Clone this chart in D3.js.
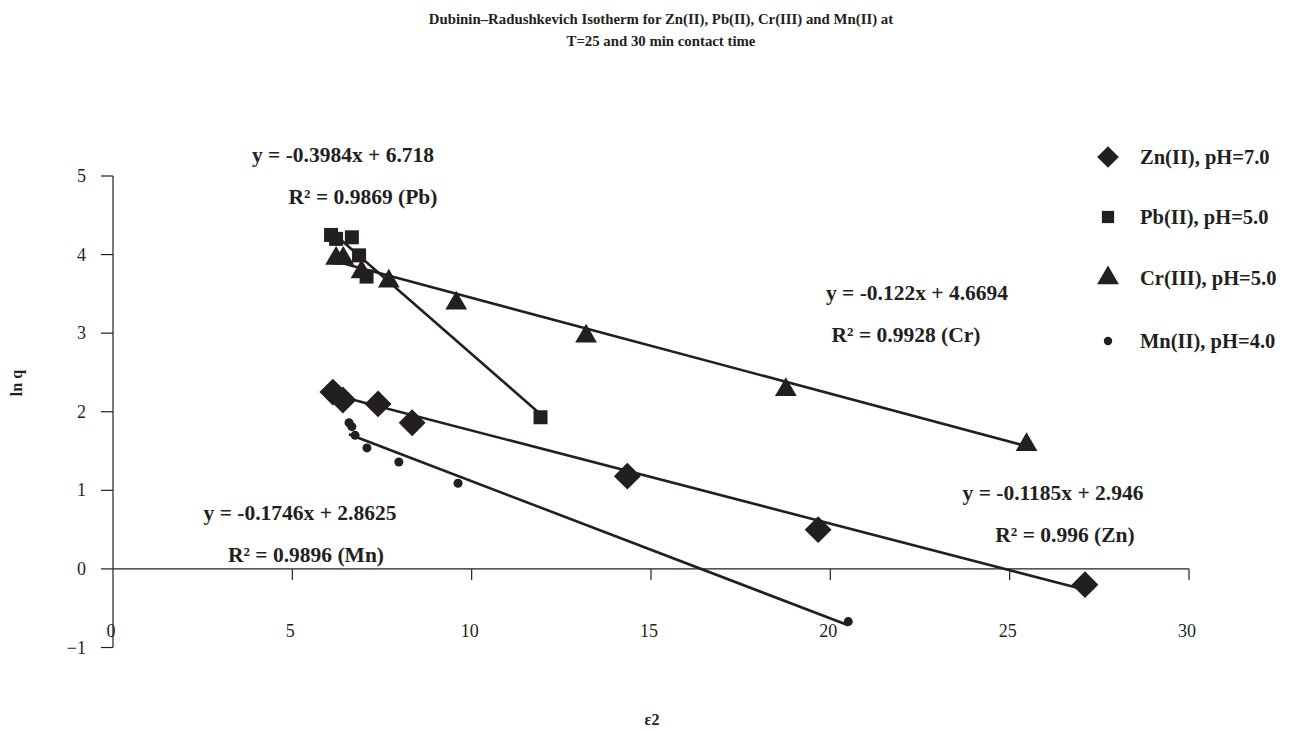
<!DOCTYPE html>
<html lang="en">
<head>
<meta charset="UTF-8">
<title>Dubinin–Radushkevich Isotherm</title>
<script src="https://d3js.org/d3.v7.min.js"></script>
<style>
  body { margin: 0; background: #fff; }
  svg text { font-family: "Liberation Serif", "Times New Roman", serif; fill: #231f20; }
  .bold { font-weight: bold; }
</style>
</head>
<body>
<div id="chart"></div>
<script>
// data
const seriesNames = ["Zn(II), pH=7.0", "Pb(II), pH=5.0", "Cr(III), pH=5.0", "Mn(II), pH=4.0"];

const znX = [6.13, 6.41, 7.39, 8.34, 14.34, 19.66, 27.1];
const znY = [2.25, 2.15, 2.10, 1.86, 1.18, 0.50, -0.20];

const pbX = [6.08, 6.22, 6.66, 6.86, 7.07, 11.92];
const pbY = [4.25, 4.20, 4.22, 3.99, 3.72, 1.93];

const crX = [6.22, 6.42, 6.93, 7.69, 9.57, 13.19, 18.76, 25.47];
const crY = [3.95, 3.95, 3.78, 3.66, 3.38, 2.96, 2.28, 1.58];

const mnX = [6.58, 6.66, 6.75, 7.08, 7.97, 9.62, 20.5];
const mnY = [1.86, 1.81, 1.70, 1.54, 1.36, 1.09, -0.67];

// trendline coefficients (as printed on the chart)
const slopes = [-0.1185, -0.3984, -0.122, -0.1746];
const intercepts = [2.946, 6.718, 4.6694, 2.8625];
const eqLabels = ["y = -0.1185x + 2.946", "y = -0.3984x + 6.718", "y = -0.122x + 4.6694", "y = -0.1746x + 2.8625"];
const r2Labels = ["R\u00b2 = 0.996 (Zn)", "R\u00b2 = 0.9869 (Pb)", "R\u00b2 = 0.9928 (Cr)", "R\u00b2 = 0.9896 (Mn)"];

const xTicks = [0, 5, 10, 15, 20, 25, 30];
const yTicks = [-1, 0, 1, 2, 3, 4, 5];

const W = 1295, H = 731;
const ink = "#231f20";

const svg = d3.select("#chart").append("svg")
  .attr("width", W).attr("height", H);

const x = d3.scaleLinear().domain([0, 30]).range([113, 1189]);
const y = d3.scaleLinear().domain([-1, 5]).range([647.5, 176]);

// title
const title = svg.append("text").attr("class", "bold")
  .attr("text-anchor", "middle").style("font-size", "14.8px");
title.append("tspan").attr("x", 661).attr("y", 24)
  .text("Dubinin\u2013Radushkevich Isotherm for Zn(II), Pb(II), Cr(III) and Mn(II) at");
title.append("tspan").attr("x", 661).attr("y", 46)
  .text("T=25 and 30 min contact time");

// y axis
svg.append("line")
  .attr("x1", x(0)).attr("x2", x(0))
  .attr("y1", y(5)).attr("y2", y(-1))
  .attr("stroke", ink).attr("stroke-width", 1.2);
svg.selectAll(".ytick").data(yTicks).enter().append("line")
  .attr("x1", x(0) - 12).attr("x2", x(0))
  .attr("y1", d => y(d)).attr("y2", d => y(d))
  .attr("stroke", ink).attr("stroke-width", 1.2);
svg.selectAll(".ylab").data(yTicks).enter().append("text")
  .attr("x", 86).attr("y", d => y(d) + 6)
  .attr("text-anchor", "end").style("font-size", "18px")
  .text(d => d < 0 ? "\u2212" + Math.abs(d) : d);

// x axis at y = 0, labels at the bottom
svg.append("line")
  .attr("x1", x(0)).attr("x2", x(30))
  .attr("y1", y(0)).attr("y2", y(0))
  .attr("stroke", ink).attr("stroke-width", 1.2);
svg.selectAll(".xtick").data(xTicks.slice(1)).enter().append("line")
  .attr("x1", d => x(d)).attr("x2", d => x(d))
  .attr("y1", y(0)).attr("y2", y(0) + 11)
  .attr("stroke", ink).attr("stroke-width", 1.2);
svg.selectAll(".xlab").data(xTicks).enter().append("text")
  .attr("x", d => x(d) - 2).attr("y", 637)
  .attr("text-anchor", "middle").style("font-size", "18px")
  .text(d => d);

// axis titles
svg.append("text").attr("class", "bold")
  .attr("transform", "translate(22,383) rotate(-90)")
  .attr("text-anchor", "middle").style("font-size", "16px")
  .text("ln q");
svg.append("text").attr("class", "bold")
  .attr("x", 652).attr("y", 725)
  .attr("text-anchor", "middle").style("font-size", "16px")
  .text("\u03b52");

// series
const series = [
  {xs: znX, ys: znY, shape: d3.symbolDiamond2, size: 460, leg: 300},
  {xs: pbX, ys: pbY, shape: d3.symbolSquare2, size: 250, leg: 190},
  {xs: crX, ys: crY, shape: d3.symbolTriangle2, size: 340, leg: 340},
  {xs: mnX, ys: mnY, shape: d3.symbolCircle, size: 64, leg: 56}
];

// trendlines over each series' x-range
series.forEach((s, i) => {
  const [x0, x1] = d3.extent(s.xs);
  svg.append("line")
    .attr("x1", x(x0)).attr("y1", y(slopes[i] * x0 + intercepts[i]))
    .attr("x2", x(x1)).attr("y2", y(slopes[i] * x1 + intercepts[i]))
    .attr("stroke", ink).attr("stroke-width", 2.6);
});

series.forEach((s, i) => {
  svg.append("g").selectAll("path")
    .data(s.xs.map((v, j) => [v, s.ys[j]]))
    .enter().append("path")
    .attr("transform", d => `translate(${x(d[0])},${y(d[1])})`)
    .attr("d", d3.symbol().type(s.shape).size(s.size))
    .attr("fill", ink);
});

// equation labels
const eqPos = [[1053, 500], [343, 162], [917, 300], [300, 520]];
const r2Pos = [[1065, 542], [363, 204], [906, 342], [306, 562]];
eqLabels.forEach((t, i) => {
  svg.append("text").attr("class", "bold")
    .attr("x", eqPos[i][0]).attr("y", eqPos[i][1])
    .attr("text-anchor", "middle").style("font-size", "21.5px").text(t);
  svg.append("text").attr("class", "bold")
    .attr("x", r2Pos[i][0]).attr("y", r2Pos[i][1])
    .attr("text-anchor", "middle").style("font-size", "21.5px").text(r2Labels[i]);
});

// legend
const legendY = [157, 217, 278, 341];
seriesNames.forEach((name, i) => {
  const g = svg.append("g").attr("transform", `translate(1108,${legendY[i]})`);
  g.append("path")
    .attr("d", d3.symbol().type(series[i].shape).size(series[i].leg))
    .attr("fill", ink);
  g.append("text").attr("class", "bold")
    .attr("x", 32).attr("y", 7)
    .style("font-size", "20.5px").text(name);
});
</script>
</body>
</html>
